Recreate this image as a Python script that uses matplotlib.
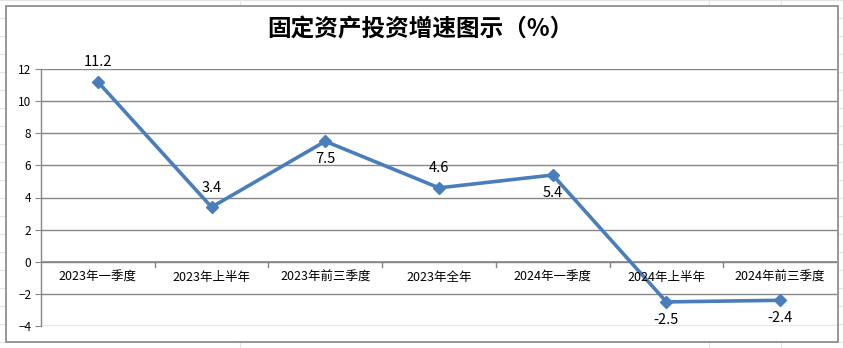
import matplotlib.pyplot as plt
from matplotlib.patches import Rectangle
from matplotlib.lines import Line2D

plt.rcParams['font.family'] = ['Noto Sans CJK SC', 'DejaVu Sans']

periods = ['2023年一季度', '2023年上半年', '2023年前三季度', '2023年全年',
           '2024年一季度', '2024年上半年', '2024年前三季度']
growth = [11.2, 3.4, 7.5, 4.6, 5.4, -2.5, -2.4]
label_above = [True, True, False, True, False, False, False]

W, H = 843, 348
fig = plt.figure(figsize=(W / 100, H / 100), dpi=100)

# worksheet cells behind the chart
for y in range(0, H, 18):
    fig.add_artist(Line2D([0, 1], [1 - y / H, 1 - y / H], color='#e4e4e4', lw=0.8, zorder=0))
for x in [240, 709, 781]:
    fig.add_artist(Line2D([x / W, x / W], [0, 1], color='#e4e4e4', lw=0.8, zorder=0))

# chart box
fig.add_artist(Rectangle((6 / W, 1 - 342 / H), 832 / W, 336 / H, transform=fig.transFigure,
                         facecolor='white', edgecolor='#868686', lw=1.2, zorder=1))

ax = fig.add_axes([41 / W, 1 - 326 / H, 796 / W, 257 / H], zorder=2)
ax.set_facecolor('none')
x = list(range(len(periods)))
ax.plot(x, growth, color='#4a7ebb', lw=2.6, marker='D', markersize=6.5, zorder=3)

ax.set_xlim(-0.5, len(periods) - 0.5)
ax.set_ylim(-4, 12)
ax.set_yticks(range(-4, 13, 2))
ax.yaxis.grid(True, color='#868686', lw=1)
ax.set_axisbelow(True)
for s in ['top', 'right', 'bottom']:
    ax.spines[s].set_visible(False)
ax.spines['left'].set_color('#868686')
ax.spines['left'].set_linewidth(1)
ax.tick_params(axis='y', length=4, color='#868686', labelsize=8.5, pad=3)
ax.set_xticks([])

# category axis sits on zero
ax.axhline(0, color='#868686', lw=1.2, zorder=2)
for b in range(1, len(periods)):
    ax.plot([b - 0.5, b - 0.5], [0, -0.35], color='#868686', lw=1, zorder=2, clip_on=False)
for i, p in enumerate(periods):
    ax.text(i, -0.95, p, ha='center', va='center', fontsize=9)

for i, v in enumerate(growth):
    if label_above[i]:
        ax.annotate(f'{v}', (i, v), xytext=(0, 9), textcoords='offset points',
                    ha='center', va='bottom', fontsize=10.5)
    else:
        ax.annotate(f'{v}', (i, v), xytext=(0, -8), textcoords='offset points',
                    ha='center', va='top', fontsize=10.5)

fig.text(420 / W, 1 - 29 / H, '固定资产投资增速图示（%）', ha='center', va='center',
         fontsize=17, fontweight='bold', zorder=3)

fig.savefig('out.png', dpi=100)
